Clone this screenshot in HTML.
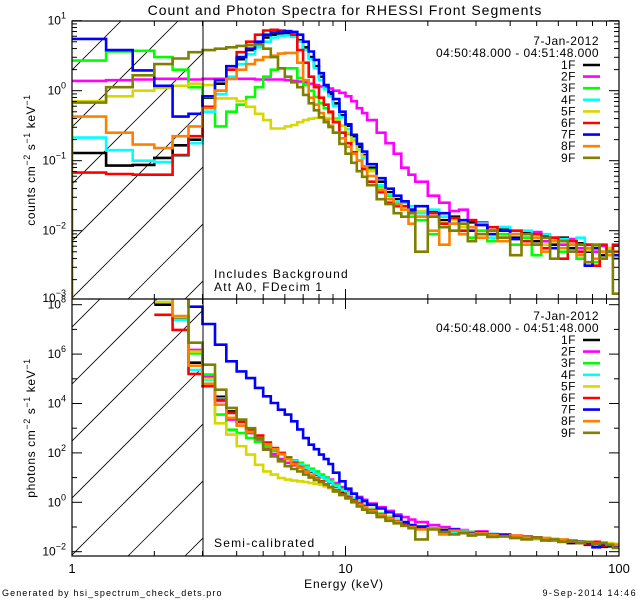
<!DOCTYPE html>
<html><head><meta charset="utf-8"><style>
html,body{margin:0;padding:0;background:#fff;}
svg{display:block;font-family:"Liberation Sans",sans-serif;}
</style></head><body>
<svg id="chart" width="640" height="600" viewBox="0 0 640 600">
<defs>
<clipPath id="clipTop"><rect x="72" y="21" width="547" height="278"/></clipPath>
<clipPath id="clipBot"><rect x="72" y="299" width="547" height="257"/></clipPath>
<clipPath id="hatchTop"><rect x="72" y="21" width="131" height="278"/></clipPath>
<clipPath id="hatchBot"><rect x="72" y="299" width="131" height="257"/></clipPath>
</defs>
<text x="345" y="15" text-anchor="middle" font-size="14" letter-spacing="1">Count and Photon Spectra for RHESSI Front Segments</text>
<g id="hatch"></g>
<g id="series"></g>
<g id="axes"></g>
<text x="214" y="278" font-size="12" letter-spacing="1.2">Includes Background</text>
<text x="214" y="291" font-size="12" letter-spacing="1.2">Att A0, FDecim 1</text>
<text x="214" y="547" font-size="12" letter-spacing="1.2">Semi-calibrated</text>
<text transform="translate(35,160) rotate(-90)" text-anchor="middle" font-size="12" letter-spacing="0.6">counts cm<tspan dy="-5" font-size="9">−2</tspan><tspan dy="5"> s</tspan><tspan dy="-5" font-size="9">−1</tspan><tspan dy="5"> keV</tspan><tspan dy="-5" font-size="9">−1</tspan></text>
<text transform="translate(35,428) rotate(-90)" text-anchor="middle" font-size="12" letter-spacing="0.6">photons cm<tspan dy="-5" font-size="9">−2</tspan><tspan dy="5"> s</tspan><tspan dy="-5" font-size="9">−1</tspan><tspan dy="5"> keV</tspan><tspan dy="-5" font-size="9">−1</tspan></text>
<text x="344" y="588" text-anchor="middle" font-size="12" letter-spacing="0.8">Energy (keV)</text>
<text x="2" y="596" font-size="9" letter-spacing="1.1">Generated by hsi_spectrum_check_dets.pro</text>
<text x="637" y="596" text-anchor="end" font-size="9" letter-spacing="1.4">9-Sep-2014 14:46</text>
<g id="legend"></g>
</svg>
<script>
const energyEdges = [1,1.333,1.667,2,2.333,2.667,3,3.333,3.667,4,4.333,4.667,5,5.333,5.667,6,6.333,6.667,7,7.333,7.667,8,8.333,8.667,9,9.5,10,10.5,11,11.5,12,13,14,15,16,17,18,20,22,24,26,28,30,33,36,40,44,48,52,56,60,65,70,75,80,85,90,95,100];
const segmentNames = ['1F','2F','3F','4F','5F','6F','7F','8F','9F'];
const segmentColors = ['#000000','#ff00ff','#00ff00','#00ffff','#d8d800','#ff0000','#0000ff','#ff8000','#808000'];

// top panel: log10 counts cm^-2 s^-1 keV^-1
const counts1F = [-0.89,-1.07,-1.06,-0.96,-0.78,-0.7, -0.1,0.1,0.3,0.45,0.58,0.68,0.76,0.8,0.82,0.82,0.8,0.72,0.62,0.48,0.35,0.2,0.05,-0.05,-0.18,-0.35,-0.5,-0.65,-0.8,-0.92,-1.1,-1.3,-1.45,-1.55, -1.6,-1.7,-1.75,-1.72,-1.85,-1.8,-1.95,-1.88,-1.9,-2.0,-1.98,-2.1,-2.02,-2.15,-2.08,-2.2,-2.1,-2.25,-2.18,-2.3,-2.22,-2.35,-2.25,-2.3];
const counts2F = [0.14,0.15,0.16,0.17,0.17,0.16, 0.17,0.17,0.17,0.17,0.17,0.16,0.16,0.16,0.16,0.15,0.14,0.13,0.12,0.1,0.08,0.06,0.04,0.03,0.0,-0.03,-0.08,-0.15,-0.25,-0.32,-0.42,-0.6,-0.75,-0.9, -1.1,-1.2,-1.3,-1.5,-1.6,-1.72,-1.7,-1.85,-1.88,-2.0,-1.95,-2.05,-2.1,-2.02,-2.15,-2.1,-2.2,-2.12,-2.25,-2.2,-2.3,-2.22,-2.28,-2.3];
const counts3F = [0.43,0.56,0.57,0.48,0.3,0.05, -0.09,-0.51,-0.3,-0.2,-0.09,0.05,0.2,0.3,0.32,0.32,0.32,0.18,0.08,0.0,-0.09,-0.18,-0.25,-0.32,-0.4,-0.5,-0.62,-0.72,-0.85,-0.95,-1.13,-1.37,-1.5,-1.6, -1.7,-1.8,-1.85,-2.05,-1.9,-2.0,-1.95,-2.1,-2.0,-2.15,-2.05,-2.2,-2.1,-2.35,-2.2,-2.15,-2.3,-2.2,-2.4,-2.25,-2.45,-2.3,-2.35,-2.4];
const counts4F = [-0.67,-0.85,-1.0,-1.02,-0.93,-0.75, -0.3,-0.05,0.2,0.38,0.52,0.62,0.7,0.76,0.78,0.79,0.77,0.7,0.58,0.45,0.32,0.15,0.02,-0.08,-0.22,-0.38,-0.55,-0.7,-0.84,-0.96,-1.15,-1.35,-1.48,-1.58, -1.6,-1.65,-1.75,-1.7,-1.8,-1.9,-1.85,-1.95,-1.9,-2.1,-1.95,-2.05,-2.0,-2.1,-2.05,-2.15,-2.12,-2.2,-2.1,-2.25,-2.2,-2.3,-2.28,-2.35];
const counts5F = [-0.15,-0.08,0.0,0.04,0.07,0.1, 0.08,-0.11,-0.11,-0.15,-0.23,-0.33,-0.42,-0.54,-0.54,-0.51,-0.49,-0.45,-0.42,-0.4,-0.39,-0.39,-0.39,-0.4,-0.42,-0.5,-0.6,-0.72,-0.85,-0.94,-1.15,-1.4,-1.55,-1.62, -1.65,-1.75,-1.72,-1.8,-1.88,-1.85,-1.95,-2.0,-1.92,-2.05,-2.1,-2.0,-2.15,-2.1,-2.2,-2.12,-2.25,-2.15,-2.2,-2.28,-2.22,-2.3,-2.25,-2.3];
const counts6F = [-1.17,-1.19,-1.2,-1.2,-0.92,-0.65, -0.23,0.0,0.3,0.55,0.7,0.8,0.86,0.87,0.86,0.85,0.8,0.58,0.4,0.2,0.05,-0.1,-0.2,-0.3,-0.45,-0.6,-0.75,-0.88,-1.0,-1.12,-1.3,-1.45,-1.6,-1.65, -1.65,-1.72,-1.8,-1.75,-1.9,-1.82,-2.0,-1.85,-2.05,-1.95,-2.1,-2.0,-2.15,-2.05,-2.25,-2.1,-2.4,-2.15,-2.3,-2.2,-2.5,-2.2,-2.35,-2.2];
const counts7F = [0.74,0.58,0.29,0.07,-0.37,-0.33, -0.08,0.15,0.35,0.48,0.6,0.7,0.8,0.83,0.84,0.85,0.84,0.8,0.7,0.56,0.44,0.25,0.08,-0.02,-0.12,-0.3,-0.48,-0.63,-0.76,-0.87,-1.05,-1.25,-1.4,-1.5, -1.58,-1.7,-1.65,-1.8,-1.75,-1.9,-1.85,-2.0,-1.92,-2.05,-2.0,-2.12,-2.05,-2.2,-2.1,-2.25,-2.15,-2.3,-2.2,-2.5,-2.25,-2.4,-2.3,-2.35];
const counts8F = [-0.37,-0.6,-0.77,-0.82,-0.65,-0.51, -0.25,0.0,0.17,0.3,0.38,0.44,0.48,0.5,0.53,0.54,0.54,0.4,0.15,-0.1,-0.2,-0.32,-0.42,-0.5,-0.6,-0.68,-0.8,-0.9,-1.0,-1.08,-1.22,-1.42,-1.55,-1.62, -1.7,-1.9,-1.8,-2.0,-2.2,-1.9,-2.05,-1.95,-2.1,-2.0,-2.15,-2.05,-2.2,-2.1,-2.3,-2.15,-2.25,-2.2,-2.35,-2.25,-2.4,-2.3,-2.35,-2.3];
const counts9F = [-0.17,0.05,0.22,0.38,0.46,0.55, 0.58,0.6,0.62,0.64,0.65,0.66,0.6,0.48,0.32,0.2,0.12,0.05,-0.06,-0.18,-0.28,-0.38,-0.45,-0.52,-0.6,-0.76,-0.9,-1.03,-1.15,-1.23,-1.35,-1.55,-1.62,-1.75, -1.8,-1.75,-2.3,-1.8,-1.95,-2.0,-1.9,-2.15,-2.05,-2.0,-2.1,-2.35,-2.05,-2.2,-2.1,-2.4,-2.15,-2.3,-2.2,-2.45,-2.2,-2.4,-2.3,-2.9];

// bottom panel: log10 photons cm^-2 s^-1 keV^-1
const photons1F = [null,null,null,8.0,7.45,5.65, 5.03,4.27,3.68,3.28,2.94,2.67,2.36,2.13,1.96,1.8,1.65,1.52,1.38,1.25,1.12,1.02,0.9,0.8,0.62,0.45,0.3,0.15,0.02,-0.1,-0.28,-0.45,-0.6,-0.72, -0.85,-0.95,-1.0,-1.08,-1.1,-1.18,-1.2,-1.25,-1.25,-1.35,-1.3,-1.4,-1.42,-1.45,-1.5,-1.55,-1.58,-1.65,-1.6,-1.72,-1.7,-1.8,-1.78,-1.75];
const photons2F = [null,null,null,8.1,7.5,6.17, 5.1,4.1,3.35,3.1,2.8,2.5,2.2,1.95,1.75,1.6,1.5,1.42,1.35,1.28,1.2,1.1,1.0,0.92,0.78,0.62,0.48,0.35,0.22,0.1,-0.05,-0.2,-0.35,-0.5, -0.6,-0.7,-0.8,-0.92,-1.0,-1.08,-1.12,-1.2,-1.18,-1.28,-1.3,-1.35,-1.4,-1.42,-1.48,-1.5,-1.55,-1.58,-1.6,-1.62,-1.65,-1.68,-1.7,-1.72];
const photons3F = [null,null,null,8.1,7.5,6.03, 5.17,3.55,2.94,2.8,2.6,2.45,2.25,2.08,1.95,1.82,1.7,1.6,1.48,1.36,1.25,1.12,1.0,0.88,0.7,0.52,0.35,0.18,0.04,-0.1,-0.28,-0.45,-0.6,-0.72, -0.85,-0.95,-1.02,-1.05,-1.12,-1.15,-1.22,-1.2,-1.28,-1.3,-1.32,-1.4,-1.38,-1.45,-1.5,-1.48,-1.55,-1.6,-1.58,-1.65,-1.66,-1.7,-1.72,-1.75];
const photons4F = [null,null,null,8.1,7.38,5.36, 4.95,4.2,3.62,3.25,2.92,2.66,2.38,2.15,1.97,1.8,1.66,1.53,1.4,1.28,1.15,1.03,0.92,0.82,0.65,0.48,0.32,0.17,0.03,-0.1,-0.28,-0.45,-0.6,-0.72, -0.82,-0.92,-1.0,-1.05,-1.12,-1.2,-1.15,-1.25,-1.3,-1.28,-1.35,-1.4,-1.42,-1.48,-1.45,-1.52,-1.55,-1.6,-1.62,-1.64,-1.68,-1.7,-1.72,-1.74];
const photons5F = [null,null,null,8.1,7.5,6.1, 5.0,3.2,2.74,2.27,1.93,1.52,1.25,1.12,0.98,0.92,0.88,0.85,0.82,0.78,0.75,0.71,0.64,0.57,0.44,0.3,0.17,0.05,-0.06,-0.16,-0.3,-0.47,-0.62,-0.75, -0.88,-0.95,-1.0,-1.08,-1.1,-1.15,-1.2,-1.22,-1.28,-1.3,-1.3,-1.36,-1.4,-1.42,-1.45,-1.5,-1.52,-1.55,-1.58,-1.6,-1.62,-1.62,-1.65,-1.68];
const photons6F = [null,null,null,7.59,6.98,5.2, 4.7,4.15,3.62,3.25,2.95,2.7,2.42,2.2,2.0,1.8,1.6,1.42,1.25,1.1,0.98,0.85,0.72,0.62,0.48,0.35,0.2,0.08,-0.05,-0.15,-0.32,-0.5,-0.65,-0.78, -0.9,-0.95,-1.05,-1.08,-1.15,-1.12,-1.22,-1.25,-1.28,-1.32,-1.3,-1.38,-1.45,-1.42,-1.5,-1.55,-1.6,-1.58,-1.65,-1.7,-1.6,-1.75,-1.7,-1.72];
const photons7F = [null,null,null,8.3,8.3,7.92, 7.22,6.38,5.71,5.3,5.03,4.63,4.29,4.02,3.75,3.55,3.28,2.95,2.6,2.33,2.15,1.93,1.75,1.55,1.2,0.85,0.55,0.35,0.18,0.05,-0.1,-0.25,-0.4,-0.55, -0.8,-0.92,-0.98,-1.05,-1.12,-1.1,-1.2,-1.25,-1.22,-1.3,-1.35,-1.38,-1.4,-1.45,-1.5,-1.52,-1.56,-1.62,-1.6,-1.65,-1.82,-1.7,-1.72,-1.75];
const photons8F = [null,null,null,8.3,7.54,5.53, 4.8,3.95,3.42,3.1,2.85,2.6,2.35,2.15,1.95,1.75,1.55,1.4,1.25,1.1,0.95,0.82,0.7,0.6,0.45,0.3,0.15,0.02,-0.1,-0.2,-0.35,-0.52,-0.67,-0.8, -0.95,-1.0,-1.1,-1.05,-1.3,-1.15,-1.2,-1.28,-1.25,-1.32,-1.38,-1.35,-1.42,-1.48,-1.45,-1.55,-1.5,-1.58,-1.62,-1.6,-1.68,-1.65,-1.7,-1.72];
const photons9F = [null,null,null,8.3,8.3,6.46, 5.57,4.56,3.82,3.35,3.0,2.6,2.13,1.86,1.66,1.46,1.35,1.25,1.12,1.0,0.9,0.82,0.72,0.62,0.44,0.3,0.17,0.0,-0.17,-0.3,-0.42,-0.6,-0.75,-0.85, -0.95,-1.05,-1.5,-1.1,-1.2,-1.3,-1.25,-1.35,-1.3,-1.4,-1.38,-1.45,-1.5,-1.42,-1.55,-1.5,-1.6,-1.55,-1.65,-1.6,-1.7,-1.65,-1.72,-1.85];

const topSeries = [counts1F,counts2F,counts3F,counts4F,counts5F,counts6F,counts7F,counts8F,counts9F];
const botSeries = [photons1F,photons2F,photons3F,photons4F,photons5F,photons6F,photons7F,photons8F,photons9F];
const xTickLabels = ['1','10','100'];
const topYDecades = [1,0,-1,-2,-3];
const botYDecades = [8,6,4,2,0,-2];
const legendDate = '7-Jan-2012';
const legendTime = '04:50:48.000 - 04:51:48.000';

const NS = 'http://www.w3.org/2000/svg';
const X0 = 72, X1 = 619;
const xScale = e => X0 + (X1 - X0) * Math.log10(e) / 2;
const yTop = v => 90.7 - 70 * v;
const yBot = v => 502.3 - 24.7 * v;
const TOP = {y0: 21, y1: 299, y: yTop};
const BOT = {y0: 299, y1: 556, y: yBot};

function mk(tag, attrs, parent) {
  const el = document.createElementNS(NS, tag);
  for (const k in attrs) el.setAttribute(k, attrs[k]);
  parent.appendChild(el);
  return el;
}

// hatch
const hatchG = document.getElementById('hatch');
[[TOP,'hatchTop'],[BOT,'hatchBot']].forEach(([p, clip], pi) => {
  const g = mk('g', {'clip-path': 'url(#' + clip + ')'}, hatchG);
  
  
  for (let c = -400; c < 300; c += 57) {
    const l = mk('line', {x1: X0 + c, y1: p.y1, x2: X0 + c + 400, y2: p.y1 - 400, stroke: '#000', 'stroke-width': 0.8}, g);
    
    
  }
});

// series
const seriesG = document.getElementById('series');
function drawSeries(panel, data, color, name, clip, fromFloor) {
  let d = '';
  let pen = false;
  for (let i = 0; i < data.length; i++) {
    const v = data[i];
    if (v === null) { pen = false; continue; }
    const xa = xScale(energyEdges[i]), xb = xScale(energyEdges[i + 1]), y = panel.y(v);
    if (!pen) {
      if (fromFloor && i === 0) d += 'M' + xa.toFixed(1) + ',' + panel.y1 + 'L' + xa.toFixed(1) + ',' + y.toFixed(1);
      else d += 'M' + xa.toFixed(1) + ',' + y.toFixed(1);
      pen = true;
    } else d += 'L' + xa.toFixed(1) + ',' + y.toFixed(1);
    d += 'L' + xb.toFixed(1) + ',' + y.toFixed(1);
  }
  const path = mk('path', {d: d, fill: 'none', stroke: color, 'stroke-width': 2.6, 'stroke-linejoin': 'miter', 'clip-path': 'url(#' + clip + ')'}, seriesG);
  
  
}
topSeries.forEach((s, i) => drawSeries(TOP, s, segmentColors[i], 'counts-series-' + segmentNames[i].toLowerCase(), 'clipTop', i === 8));
botSeries.forEach((s, i) => drawSeries(BOT, s, segmentColors[i], 'photons-series-' + segmentNames[i].toLowerCase(), 'clipBot', false));

// axes
const axG = document.getElementById('axes');
function ln(x1, y1, x2, y2, name, w) {
  const l = mk('line', {x1, y1, x2, y2, stroke: '#000', 'stroke-width': w || 1}, axG);
  
  
}
const frame = mk('rect', {x: X0, y: 21, width: X1 - X0, height: 535, fill: 'none', stroke: '#000', 'stroke-width': 1.2}, axG);


ln(X0, 299, X1, 299, 'panel-divider', 1.2);
ln(203, 21, 203, 556, 'attenuator-threshold-line', 1);

// x ticks
[TOP, BOT].forEach(p => {
  for (let dec = 0; dec < 2; dec++) {
    for (let m = 1; m <= 9; m++) {
      const e = Math.pow(10, dec) * m;
      const x = xScale(e);
      const len = m === 1 ? 10 : 5;
      ln(x, p.y0, x, p.y0 + len, 'x-tick', 1);
      ln(x, p.y1, x, p.y1 - len, 'x-tick', 1);
    }
  }
  ln(X1, p.y0, X1, p.y0 + 10, 'x-tick', 1);
  ln(X1, p.y1, X1, p.y1 - 10, 'x-tick', 1);
});
xTickLabels.forEach((lab, i) => {
  const t = mk('text', {x: xScale(Math.pow(10, i)), y: 573, 'text-anchor': 'middle', 'font-size': 13}, axG);
  t.textContent = lab;
  
  
});

// top y ticks
for (let dec = -3; dec <= 0; dec++) {
  for (let m = 1; m <= 9; m++) {
    const y = yTop(dec + Math.log10(m));
    if (y < 21 || y > 299) continue;
    const len = m === 1 ? 10 : 5;
    ln(X0, y, X0 + len, y, 'top-y-tick', 1);
    ln(X1, y, X1 - len, y, 'top-y-tick', 1);
  }
}
ln(X0, yTop(1), X0 + 10, yTop(1), 'top-y-tick', 1);
ln(X1, yTop(1), X1 - 10, yTop(1), 'top-y-tick', 1);
function yLabel(y, dec, name) {
  const t = mk('text', {x: 66, y: y + 4, 'text-anchor': 'end', 'font-size': 12}, axG);
  
  
  const a = document.createElementNS(NS, 'tspan'); a.textContent = '10'; t.appendChild(a);
  const b = document.createElementNS(NS, 'tspan');
  b.setAttribute('dy', '-6'); b.setAttribute('font-size', '9');
  b.textContent = String(dec).replace('-', '−');
  t.appendChild(b);
}
topYDecades.forEach(d => yLabel(Math.min(yTop(d), 298), d, 'top-y-tick-label'));

// bottom y ticks
for (let dec = -2; dec <= 8; dec++) {
  const y = yBot(dec);
  const len = dec % 2 === 0 ? 10 : 5;
  ln(X0, y, X0 + len, y, 'bottom-y-tick', 1);
  ln(X1, y, X1 - len, y, 'bottom-y-tick', 1);
}
botYDecades.forEach(d => yLabel(yBot(d), d, 'bottom-y-tick-label'));

// legends
const legG = document.getElementById('legend');
[[45, 'top'], [320, 'bottom']].forEach(([y0, which]) => {
  const g = mk('g', {}, legG);
  
  
  const t1 = mk('text', {x: 599, y: y0, 'text-anchor': 'end', 'font-size': 12, 'letter-spacing': 0.5}, g);
  t1.textContent = legendDate;
  
  
  const t2 = mk('text', {x: 599, y: y0 + 12, 'text-anchor': 'end', 'font-size': 12, 'letter-spacing': 0.45}, g);
  t2.textContent = legendTime;
  
  
  segmentNames.forEach((n, i) => {
    const yy = y0 + 24 + i * 11.6;
    const t = mk('text', {x: 576, y: yy, 'text-anchor': 'end', 'font-size': 12, 'letter-spacing': 0.5}, g);
    t.textContent = n;
    
    
    const l = mk('line', {x1: 583, y1: yy - 4, x2: 600, y2: yy - 4, stroke: segmentColors[i], 'stroke-width': 2.6}, g);
    
    
  });
});
</script>
</body></html>
